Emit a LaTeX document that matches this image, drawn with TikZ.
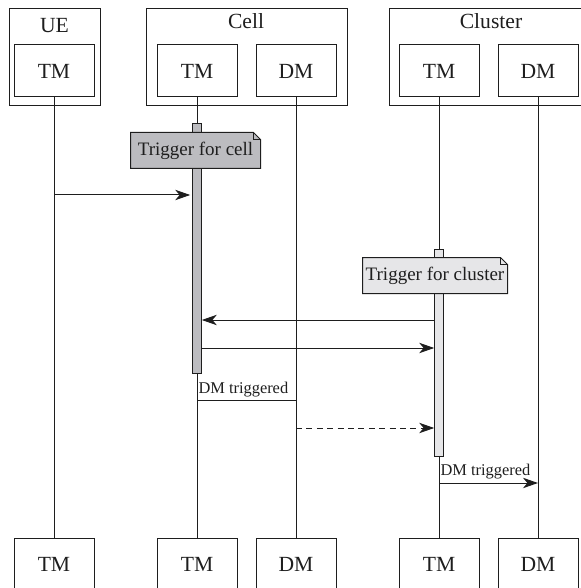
\documentclass[tikz,border=0pt]{standalone}
\usepackage{fontspec}
\setmainfont{Liberation Serif}
\usetikzlibrary{arrows.meta}

\definecolor{cellgray}{RGB}{188,188,192}
\definecolor{clustergray}{RGB}{230,230,232}
\definecolor{ink}{RGB}{30,30,30}

\tikzset{
  group/.style={draw, anchor=north west, inner sep=0pt, minimum height=48.5pt},
  grouplabel/.style={anchor=base, inner sep=0pt, font=\fontsize{10.8}{13}\selectfont},
  module/.style={draw, fill=white, inner sep=0pt, minimum width=40pt, minimum height=26pt,
    font=\fontsize{10.8}{13}\selectfont},
  act/.style={draw, anchor=north, inner sep=0pt, minimum width=4.3pt},
  note/.style={inner sep=0pt, minimum height=17.5pt, font=\fontsize{9.5}{11}\selectfont},
  msg/.style={-{Stealth[length=7.5pt,width=5.2pt,inset=2.2pt]}},
  small/.style={anchor=base west, inner sep=0pt, font=\fontsize{8.2}{10}\selectfont}
}

% outline of a note with a folded corner
\newcommand{\foldnote}[1]{%
  \fill[white] ([xshift=-3.5pt]#1.north east) -| ([yshift=-3.5pt]#1.north east) -- cycle;
  \draw (#1.south west) -- (#1.north west) -- ([xshift=-3.5pt]#1.north east)
    -- ([yshift=-3.5pt]#1.north east) -- (#1.south east) -- cycle;
  \draw ([xshift=-3.5pt]#1.north east) |- ([yshift=-3.5pt]#1.north east);
}

\begin{document}
\begin{tikzpicture}[x=0.5pt, y=-0.5pt, line width=0.5pt, draw=ink, color=ink]
  \useasboundingbox (0,0) rectangle (581,588);
  \clip (0,0) rectangle (581,588);

  % groups
  \node[group, minimum width=45.5pt] (ueGroup) at (9,8) {};
  \node[group, minimum width=100.5pt] (cellGroup) at (146,8) {};
  \node[group, minimum width=100.5pt] (clusterGroup) at (389,8) {};
  \node[grouplabel] (ueLabel) at (54.5,33) {UE};
  \node[grouplabel] (cellLabel) at (246,29) {Cell};
  \node[grouplabel] (clusterLabel) at (491,29) {Cluster};

  % modules, top and bottom
  \node[module] (ueTM) at (54,71) {TM};
  \node[module] (cellTM) at (197,71) {TM};
  \node[module] (cellDM) at (296,71) {DM};
  \node[module] (clusTM) at (439,71) {TM};
  \node[module] (clusDM) at (538,71) {DM};

  \node[module] (ueTMb) at (54,564) {TM};
  \node[module] (cellTMb) at (197,564) {TM};
  \node[module] (cellDMb) at (296,564) {DM};
  \node[module] (clusTMb) at (439,564) {TM};
  \node[module] (clusDMb) at (538,564) {DM};

  % lifelines
  \draw (ueTM.south) -- (ueTMb.north);
  \draw (cellTM.south) -- (cellTMb.north);
  \draw (cellDM.south) -- (cellDMb.north);
  \draw (clusTM.south) -- (clusTMb.north);
  \draw (clusDM.south) -- (clusDMb.north);

  % activations
  \node[act, fill=cellgray, minimum height=125pt] (cellAct) at (197,123) {};
  \node[act, fill=clustergray, minimum height=103.5pt] (clusAct) at (439,249) {};

  % notes
  \node[note, fill=cellgray, minimum width=64.5pt] (trigCell) at (195.5,150.5) {};
  \foldnote{trigCell}
  \node[note] at (trigCell) {Trigger for cell};
  \node[note, fill=clustergray, minimum width=72pt] (trigCluster) at (435,275.5) {};
  \foldnote{trigCluster}
  \node[note] at (trigCluster) {Trigger for cluster};

  % messages
  \coordinate (m1) at (54,195);
  \coordinate (m2) at (0,320);
  \coordinate (m3) at (0,348);
  \coordinate (m4) at (0,400);
  \coordinate (m5) at (0,428);
  \coordinate (m6) at (0,483);

  \draw[msg] (m1) -- ([xshift=-1pt]m1 -| cellAct.west);
  \draw[msg] (m2 -| clusAct.west) -- (m2 -| cellAct.east);
  \draw[msg] (m3 -| cellAct.east) -- (m3 -| clusAct.west);

  \draw (m4 -| cellTM) -- (m4 -| cellDM);
  \node[small] (dmCell) at (198,393) {DM triggered};

  \draw[msg, dashed, dash pattern=on 3pt off 2.2pt] (m5 -| cellDM) -- (m5 -| clusAct.west);

  \draw[msg] (m6 -| clusTM) -- (m6 -| clusDM);
  \node[small] (dmCluster) at (440,475) {DM triggered};
\end{tikzpicture}
\end{document}
